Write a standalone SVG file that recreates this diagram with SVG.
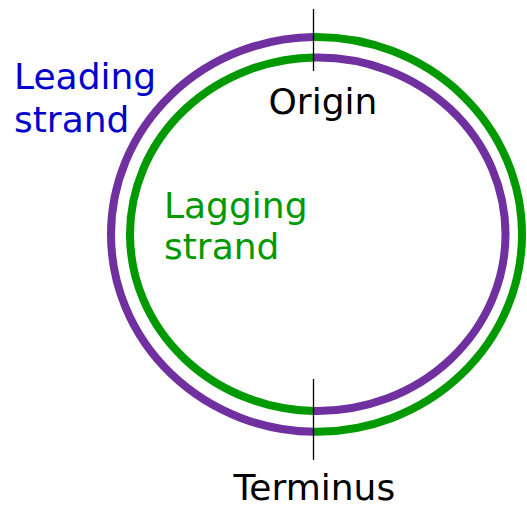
<svg xmlns="http://www.w3.org/2000/svg" width="527" height="509" viewBox="0 0 527 509">
  <style>
    .ring { fill: none; stroke-width: 8; }
    .purple { stroke: #7030A0; }
    .green { stroke: #009900; }
    .lbl { font-family: "DejaVu Sans", "Liberation Sans", sans-serif; font-size: 36px; }
    .tick { stroke: #000; stroke-width: 1.3; }
  </style>
  <defs>
    <clipPath id="leftHalf"><rect x="0" y="0" width="313.5" height="509"/></clipPath>
    <clipPath id="rightHalf"><rect x="313.5" y="0" width="213.5" height="509"/></clipPath>
  </defs>
  <g id="leading-strand">
    <ellipse class="ring purple" cx="316.5" cy="234.4" rx="205.5" ry="197.4" clip-path="url(#leftHalf)"/>
    <ellipse class="ring purple" cx="317.75" cy="234.25" rx="187.75" ry="176.75" clip-path="url(#rightHalf)"/>
    <text class="lbl" x="14" y="89" fill="#0000CC">Leading</text>
    <text class="lbl" x="14" y="132" fill="#0000CC">strand</text>
  </g>
  <g id="lagging-strand">
    <ellipse class="ring green" cx="317.75" cy="234.25" rx="187.75" ry="176.75" clip-path="url(#leftHalf)"/>
    <ellipse class="ring green" cx="316.5" cy="234.4" rx="205.5" ry="197.4" clip-path="url(#rightHalf)"/>
    <text class="lbl" x="164" y="218" fill="#009900">Lagging</text>
    <text class="lbl" x="164" y="259" fill="#009900">strand</text>
  </g>
  <g id="connectors">
    <line class="tick" x1="313.5" y1="9" x2="313.5" y2="71"/>
    <line class="tick" x1="313.5" y1="379" x2="313.5" y2="460"/>
  </g>
  <g id="origin">
    <text class="lbl" x="268.5" y="114" fill="#000">Origin</text>
  </g>
  <g id="terminus">
    <text class="lbl" x="233.5" y="500" fill="#000">Terminus</text>
  </g>
</svg>
